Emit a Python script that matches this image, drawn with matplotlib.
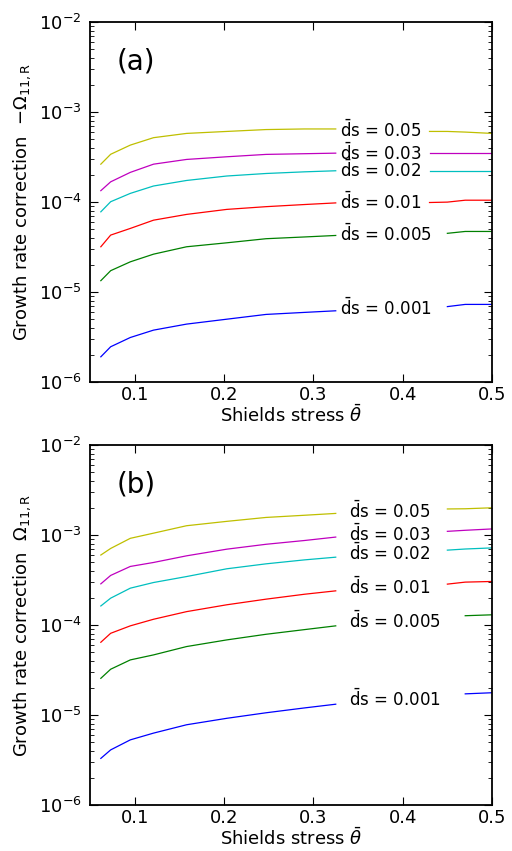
import numpy as np
import matplotlib
matplotlib.use('Agg')
import matplotlib.pyplot as plt

plt.rcParams['font.family'] = 'DejaVu Sans'
plt.rcParams['mathtext.fontset'] = 'dejavusans'

# Shields stress grid the curves were read at
theta = [0.062, 0.073, 0.095, 0.121, 0.158, 0.203, 0.247, 0.29, 0.325, 0.43, 0.45, 0.47, 0.5]
ds_labels = ['0.05', '0.03', '0.02', '0.01', '0.005', '0.001']
colors = ['y', 'm', 'c', 'r', 'g', 'b']

# panel (a): -Omega_11,R
a_005 = [2.64e-4, 3.4e-4, 4.3e-4, 5.2e-4, 5.8e-4, 6.1e-4, 6.4e-4, 6.5e-4, 6.5e-4, 6.1e-4, 6.1e-4, 6.0e-4, 5.8e-4]
a_003 = [1.34e-4, 1.68e-4, 2.14e-4, 2.64e-4, 2.98e-4, 3.19e-4, 3.39e-4, 3.45e-4, 3.5e-4, 3.5e-4, 3.5e-4, 3.5e-4, 3.5e-4]
a_002 = [7.8e-5, 1.01e-4, 1.25e-4, 1.51e-4, 1.74e-4, 1.95e-4, 2.08e-4, 2.17e-4, 2.23e-4, 2.23e-4, 2.23e-4, 2.23e-4, 2.23e-4]
a_001 = [3.19e-5, 4.3e-5, 5.1e-5, 6.3e-5, 7.3e-5, 8.3e-5, 8.9e-5, 9.4e-5, 9.8e-5, 9.9e-5, 1.0e-4, 1.05e-4, 1.05e-4]
a_0005 = [1.34e-5, 1.73e-5, 2.17e-5, 2.64e-5, 3.19e-5, 3.53e-5, 3.92e-5, 4.1e-5, 4.26e-5, 4.4e-5, 4.5e-5, 4.72e-5, 4.72e-5]
a_0001 = [1.91e-6, 2.47e-6, 3.13e-6, 3.78e-6, 4.41e-6, 5.0e-6, 5.65e-6, 5.95e-6, 6.2e-6, 6.8e-6, 6.9e-6, 7.3e-6, 7.3e-6]

# panel (b): Omega_11,R
b_005 = [6.0e-4, 7.1e-4, 9.2e-4, 1.05e-3, 1.27e-3, 1.42e-3, 1.57e-3, 1.66e-3, 1.74e-3, 1.95e-3, 1.95e-3, 1.96e-3, 2.01e-3]
b_003 = [2.87e-4, 3.56e-4, 4.48e-4, 4.96e-4, 5.88e-4, 6.97e-4, 7.9e-4, 8.7e-4, 9.5e-4, 1.08e-3, 1.1e-3, 1.13e-3, 1.17e-3]
b_002 = [1.63e-4, 1.99e-4, 2.57e-4, 2.97e-4, 3.46e-4, 4.22e-4, 4.79e-4, 5.3e-4, 5.68e-4, 6.7e-4, 6.8e-4, 7.0e-4, 7.2e-4]
b_001 = [6.44e-5, 8.1e-5, 9.8e-5, 1.16e-4, 1.41e-4, 1.68e-4, 1.94e-4, 2.2e-4, 2.4e-4, 2.8e-4, 2.85e-4, 3.0e-4, 3.05e-4]
b_0005 = [2.56e-5, 3.23e-5, 4.1e-5, 4.66e-5, 5.77e-5, 6.84e-5, 7.9e-5, 8.9e-5, 9.8e-5, 1.2e-4, 1.23e-4, 1.27e-4, 1.30e-4]
b_0001 = [3.3e-6, 4.1e-6, 5.3e-6, 6.3e-6, 7.8e-6, 9.2e-6, 1.06e-5, 1.2e-5, 1.32e-5, 1.6e-5, 1.65e-5, 1.72e-5, 1.77e-5]

#tag, ylabel, curves, (label x, gap end, gap end for long labels), (axes bottom, top)
panels = [
    ('(a)', r'Growth rate correction  $-\Omega_{11,\mathrm{R}}$',
     [a_005, a_003, a_002, a_001, a_0005, a_0001], [0.328, 0.43, 0.445], [0.551, 0.974]),
    ('(b)', r'Growth rate correction  $\Omega_{11,\mathrm{R}}$',
     [b_005, b_003, b_002, b_001, b_0005, b_0001], [0.338, 0.435, 0.455], [0.054, 0.477]),
]

fig = plt.figure(figsize=(5.12, 8.51), dpi=100)
x = np.array(theta)

for tag, ylab, series, gap, (bot, top) in panels:
    ax = fig.add_axes([0.176, bot, 0.785, top - bot])
    for i, (y, lab, c) in enumerate(zip(series, ds_labels, colors)):
        y = np.array(y)
        #Break the line where the inline label sits
        g_end = gap[2] if i >= 4 else gap[1]
        left = x < gap[0]
        right = x >= g_end
        ax.plot(x[left], y[left], color=c, lw=0.9)
        ax.plot(x[right], y[right], color=c, lw=0.9)
        ly = np.sqrt(y[left][-1] * y[right][0])
        ax.text(gap[0] + 0.002, ly, r'$\bar{\mathrm{d}}\mathrm{s}$ = ' + lab,
                fontsize=12, ha='left', va='center')
    ax.set_yscale('log')
    ax.set_xlim(0.05, 0.5)
    ax.set_ylim(1e-6, 1e-2)
    ax.set_xticks([0.1, 0.2, 0.3, 0.4, 0.5])
    ax.set_xticklabels(['0.1', '0.2', '0.3', '0.4', '0.5'])
    ax.tick_params(which='both', direction='in', top=True, right=True, labelsize=13)
    ax.tick_params(which='major', length=6, pad=6)
    ax.tick_params(axis='x', which='major', pad=3)
    ax.tick_params(which='minor', length=3)
    for s in ax.spines.values():
        s.set_linewidth(1.3)
    ax.set_xlabel(r'Shields stress $\bar{\theta}$', fontsize=13, labelpad=0)
    ax.set_ylabel(ylab, fontsize=13, labelpad=4)
    ax.text(0.065, 0.89, tag, transform=ax.transAxes, fontsize=20, va='center')

fig.savefig('out.png', dpi=100)
